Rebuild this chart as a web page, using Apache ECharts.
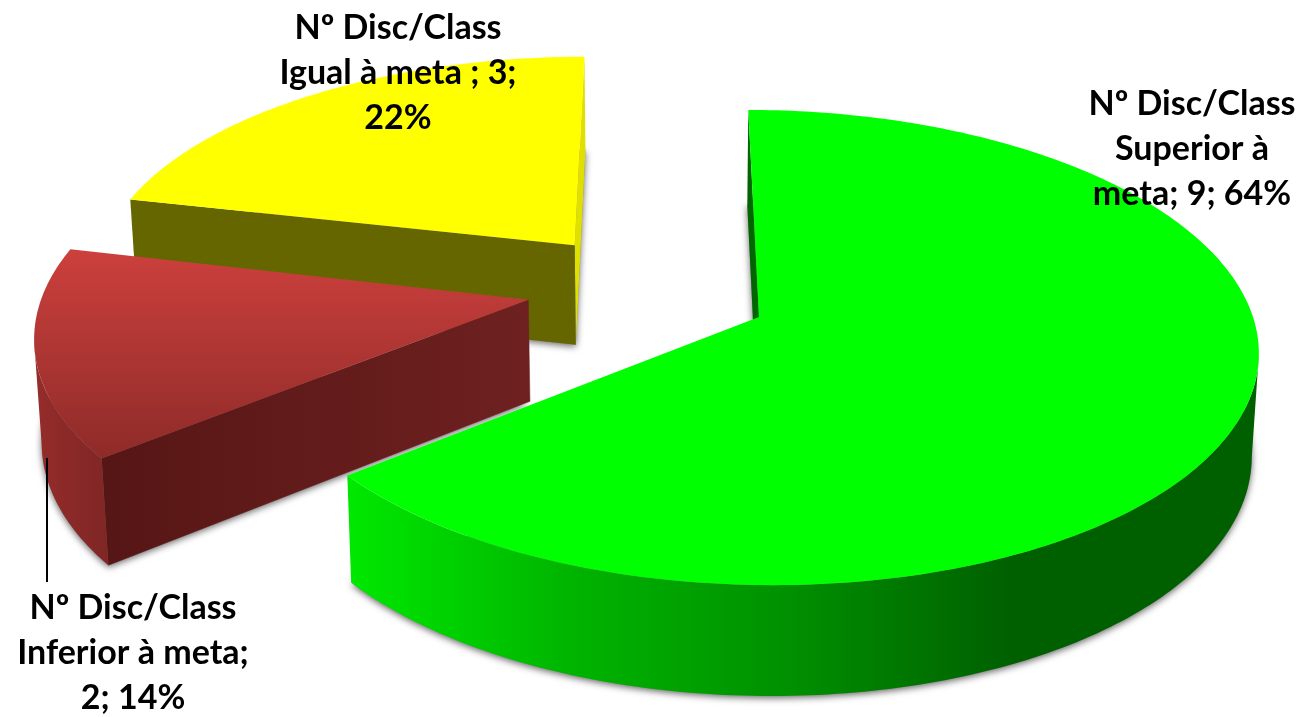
<!DOCTYPE html>
<html><head><meta charset="utf-8">
<style>html,body{margin:0;padding:0;background:#fff}#c{width:1301px;height:717px}</style>
<script src="https://cdn.jsdelivr.net/npm/echarts@6/dist/echarts.min.js"></script>
</head><body><div id="c"></div>
<script>
const categories = ['Superior à meta', 'Inferior à meta', 'Igual à meta'];
const seriesValues = [9, 2, 3];
const labelTexts = [
  'Nº Disc/Class\nSuperior à\nmeta; 9; 64%',
  'Nº Disc/Class\nInferior à meta;\n2; 14%',
  'Nº Disc/Class\nIgual à meta ; 3;\n22%'
];

// --- layout / style (not data) ---
const VX = 665, VY = -1500, H0 = 1817, PERSP = 0.1286, FOLD = 0.988;
const START_DEG = -90;
const slices = [
  { ox: 94, oy: 0, r: 494, ry: 1, order: 3, wallSide: 'right',
    top: '#00ff00',
    wall: { x: 350, x2: 1010, stops: ['#00e800', '#00b400', '#009000', '#006000'] },
    startFace: '#006600', endFace: null },
  { ox: -138, oy: -0.074, r: 492, ry: 1.02, order: 2, wallSide: 'left',
    top: { y: 250, y2: 465, stops: ['#cc403d', '#8c2a28'] },
    wall: { x: 36, x2: 112, stops: ['#942c2a', '#7e2625'] },
    startFace: { x: 102, x2: 530, stops: ['#561615', '#6e2120'] }, endFace: null },
  { ox: -94, oy: -0.32, r: 490, ry: 0.98, order: 1,
    top: '#ffff00', wall: null,
    startFace: '#666600', endFace: '#e0e000' }
];
const labelBoxes = [
  { x: 1192, y: 149 }, { x: 133, y: 653 }, { x: 398, y: 73 }
];
const leader = { x: 47, y1: 458, y2: 582 };

function worldToScreen(X, k, down) {
  const x = VX + X * k, y = VY + H0 * k;
  if (!down) return [x, y];
  return [VX + (x - VX) * FOLD, y + 102 + 60 * (k - 1)];
}
function project(s, theta, down) {
  const v = s.oy + Math.sin(theta) * s.ry;
  const k = 1 / (1 - PERSP * v);
  return worldToScreen(s.ox + s.r * Math.cos(theta), k, down);
}
function apex(s, down) {
  return worldToScreen(s.ox, 1 / (1 - PERSP * s.oy), down);
}
function paint(f) {
  if (!f || typeof f === 'string') return f;
  const n = f.stops.length;
  return { type: 'linear', global: true,
    x: f.x || 0, y: f.y || 0, x2: f.x2 || 0, y2: f.y2 || 0,
    colorStops: f.stops.map((c, i) => ({ offset: i / (n - 1), color: c })) };
}
function arc(s, a0, a1, down) {
  const pts = [], n = Math.max(8, Math.ceil(Math.abs(a1 - a0) * 60));
  for (let i = 0; i <= n; i++) pts.push(project(s, a0 + (a1 - a0) * i / n, down));
  return pts;
}
const total = seriesValues.reduce((a, b) => a + b, 0);

function renderSlice(params, api) {
  const i = params.dataIndex, s = slices[i];
  let before = 0;
  for (let j = 0; j < i; j++) before += seriesValues[j];
  const a0 = (START_DEG + before / total * 360) * Math.PI / 180;
  const a1 = a0 + api.value(0) / total * 2 * Math.PI;
  const z = s.order * 10;
  const kids = [];
  const poly = (points, fill, extra, dz) => kids.push({
    type: 'polygon', z2: z + dz, shape: { points },
    style: Object.assign({ fill: paint(fill) }, extra || {})
  });
  const topArc = arc(s, a0, a1, false), botArc = arc(s, a0, a1, true);
  const A = apex(s, false), B = apex(s, true);
  const last = topArc.length - 1;
  // base with soft cast shadow
  poly([B].concat(botArc), '#888', { shadowBlur: 7, shadowColor: 'rgba(0,0,0,0.6)', shadowOffsetY: 2 }, 0);
  // far cut faces
  if (i === 0) poly([A, topArc[0], botArc[0], B], s.startFace, null, 1);
  if (i === 2) poly([A, topArc[last], botArc[last], B], s.endFace, null, 1);
  // near cut faces
  if (i === 1) poly([A, topArc[0], botArc[0], B], s.startFace, { stroke: paint(s.startFace), lineWidth: 0.5 }, 2);
  if (i === 2) poly([A, topArc[0], botArc[0], B], s.startFace, null, 2);
  // outer wall, cut at the silhouette tangent so its side edge stays straight
  if (s.wall) {
    const xs = topArc.map(p => p[0]);
    let from = 0, to = last;
    if (s.wallSide === 'right') from = xs.indexOf(Math.max.apply(null, xs));
    else to = xs.indexOf(Math.min.apply(null, xs));
    poly(topArc.slice(from, to + 1).concat(botArc.slice(from, to + 1).reverse()), s.wall, null, 3);
  }
  // top surface
  poly([A].concat(topArc), s.top, null, 4);
  // label
  kids.push({ type: 'text', z2: 100, style: {
    text: labelTexts[i], x: labelBoxes[i].x, y: labelBoxes[i].y,
    textAlign: 'center', textVerticalAlign: 'middle',
    fontFamily: 'Lato', fontWeight: 'bold', fontSize: 34, lineHeight: 45, fill: '#000'
  }});
  if (i === 1) kids.push({ type: 'line', z2: 50,
    shape: { x1: leader.x, y1: leader.y1, x2: leader.x, y2: leader.y2 },
    style: { stroke: '#000', lineWidth: 2 } });
  return { type: 'group', children: kids };
}

const chart = echarts.init(document.getElementById('c'), null, { renderer: 'canvas' });
chart.setOption({
  animation: false,
  backgroundColor: '#fff',
  series: [{
    type: 'custom', coordinateSystem: 'none', silent: true,
    renderItem: renderSlice,
    data: seriesValues.map((v, i) => ({ name: categories[i], value: [v] }))
  }]
});
</script></body></html>
